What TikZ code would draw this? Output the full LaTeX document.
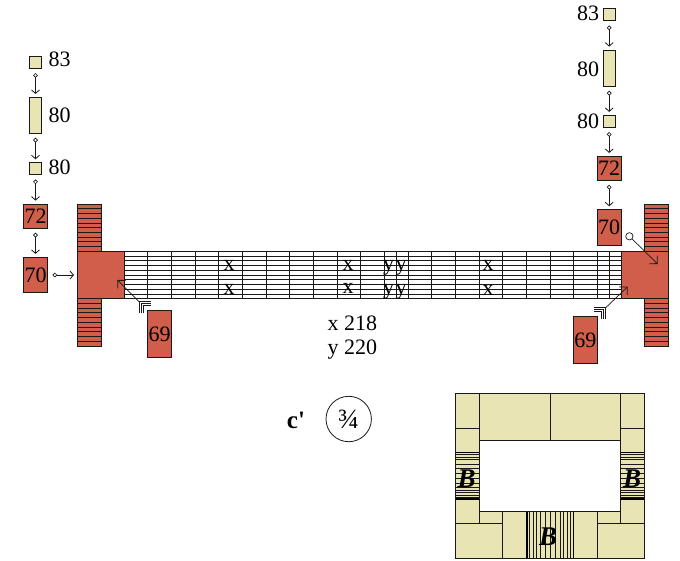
\documentclass[tikz,border=0pt]{standalone}
\usepackage{fontspec}
\setmainfont{Liberation Serif}
\newfontfamily\plainserif{Liberation Serif}
\usetikzlibrary{arrows.meta}
\definecolor{brick}{RGB}{208,94,74}
\definecolor{straw}{RGB}{232,228,180}
\definecolor{ink}{RGB}{25,25,25}
\tikzset{
  thinline/.style={draw=ink,line width=0.8pt},
  redbox/.style={draw=ink,line width=0.8pt,fill=brick,inner sep=0pt,font=\fontsize{22}{22}\selectfont},
  strawbox/.style={draw=ink,line width=0.8pt,fill=straw,inner sep=0pt},
  lab/.style={inner sep=0pt,anchor=base west,font=\fontsize{22}{22}\selectfont},
  gridlab/.style={inner sep=0pt,anchor=base,font=\fontsize{22}{22}\selectfont},
  conn/.style={draw=ink,line width=0.8pt,{Circle[open,length=4.6pt,width=4.6pt,fill=white,line width=0.7pt]}-{Straight Barb[length=3.5pt,width=8pt,line width=0.8pt]}},
  arrowline/.style={draw=ink,line width=0.7pt},
  bold B/.style={inner sep=0pt,font=\fontsize{27}{27}\selectfont\bfseries\itshape}
}
\begin{document}
\begin{tikzpicture}[x=1pt,y=-1pt]
\useasboundingbox (0,0) rectangle (680,560);
% girder
\foreach \k in {0,...,10} \draw[thinline] (124,251.3+4.74*\k) -- (621,251.3+4.74*\k);
\foreach \gx in {147.7,171.4,195,218.7,242.4,266,289.7,313.4,337,360.7,384.4,396,408,431.7,455.4,479,502.7,526.4,550,573.7,597.4,609}
  \draw[thinline] (\gx,251.3) -- (\gx,298.7);
% left end block
\fill[brick] (77,204) rectangle (101,346);
\fill[brick] (77,251.3) rectangle (124,298.7);
\foreach \k in {1,...,9} {
  \draw[thinline] (77,204+4.73*\k) -- (101,204+4.73*\k);
  \draw[thinline] (77,298.7+4.73*\k) -- (101,298.7+4.73*\k);
}
\draw[thinline] (77,251.3) -- (101,251.3);
\draw[thinline] (77,298.7) -- (101,298.7);
\draw[thinline] (77,204) -- (101,204) -- (101,251.3) -- (124,251.3) -- (124,298.7) -- (101,298.7) -- (101,346) -- (77,346) -- cycle;
% right end block
\fill[brick] (644.5,204) rectangle (668,346);
\fill[brick] (621,251.3) rectangle (668,298.7);
\foreach \k in {1,...,9} {
  \draw[thinline] (644.5,204+4.73*\k) -- (668,204+4.73*\k);
  \draw[thinline] (644.5,298.7+4.73*\k) -- (668,298.7+4.73*\k);
}
\draw[thinline] (644.5,251.3) -- (668,251.3);
\draw[thinline] (644.5,298.7) -- (668,298.7);
\draw[thinline] (668,204) -- (644.5,204) -- (644.5,251.3) -- (621,251.3) -- (621,298.7) -- (644.5,298.7) -- (644.5,346) -- (668,346) -- cycle;
% grid letters
\foreach \lx/\ly/\lname in {229/270.5/a,229/294/b,348/270.5/c,348/293.5/d,488/270.5/e,488/295/f}
  \node[gridlab] (x\lname) at (\lx,\ly) {x};
\foreach \lx/\ly/\lname in {388.5/270.5/a,401/270.5/b,388.5/294.5/c,401/294.5/d}
  \node[gridlab] (y\lname) at (\lx,\ly) {y};
% left stack
\node[strawbox,minimum width=12.4pt,minimum height=12.3pt] (la) at (35.5,62.2) {};
\node[strawbox,minimum width=12.4pt,minimum height=35.7pt] (lb) at (35.5,115.2) {};
\node[strawbox,minimum width=12.4pt,minimum height=12pt] (lc) at (35.5,168.7) {};
\node[redbox,minimum width=24.4pt,minimum height=24pt] (ld) at (35.5,216) {72};
\node[redbox,minimum width=24.4pt,minimum height=35.4pt] (le) at (35.5,275) {70};
\node[lab] (lla) at (48.5,66.7) {83};
\node[lab] (llb) at (48.5,122.7) {80};
\node[lab] (llc) at (48.5,174.3) {80};
\node[redbox,minimum width=24pt,minimum height=47.4pt] (lf) at (159.7,334) {69};
% right stack
\node[strawbox,minimum width=12.4pt,minimum height=12pt] (ra) at (609.2,14.7) {};
\node[strawbox,minimum width=12.4pt,minimum height=36pt] (rb) at (609.2,68) {};
\node[strawbox,minimum width=12.4pt,minimum height=12pt] (rc) at (609.2,121.3) {};
\node[redbox,minimum width=24pt,minimum height=23.7pt] (rd) at (609.2,168.2) {72};
\node[redbox,minimum width=24pt,minimum height=35.6pt] (re) at (609.2,227.5) {70};
\node[lab] (rla) at (577,20.7) {83};
\node[lab] (rlb) at (577,76) {80};
\node[lab] (rlc) at (577,128.3) {80};
\node[redbox,minimum width=24pt,minimum height=47.4pt] (rf) at (585.3,340) {69};
% stack connectors
\tikzset{stackgap/.style={conn,shorten <=4.4pt,shorten >=3pt}}
\draw[stackgap] (la.south) -- (lb.north);
\draw[stackgap] (lb.south) -- (lc.north);
\draw[stackgap] (lc.south) -- (ld.north);
\draw[stackgap] (ld.south) -- (le.north);
\draw[stackgap] (ra.south) -- (rb.north);
\draw[stackgap] (rb.south) -- (rc.north);
\draw[stackgap] (rc.south) -- (rd.north);
\draw[stackgap] (rd.south) -- (re.north);
\coordinate (leftblock) at (77,275);
\draw[conn,shorten <=4.4pt,shorten >=3pt] (le.east) -- (leftblock);
% circle arrow on right block
\coordinate (rcircle) at (626.5,233.5);
\coordinate (rcirctip) at (657.7,264);
\draw[draw=ink,line width=0.7pt,{Circle[open,length=8pt,width=8pt,fill=white,line width=0.7pt]}-{Straight Barb[length=5.6pt,width=11.3pt,line width=0.8pt]}] (rcircle) -- (rcirctip);
% feathered arrows
\coordinate (tailL) at (139,301.7);
\coordinate (tipL) at (117.3,280);
\draw[arrowline,-{Straight Barb[length=5.6pt,width=11.3pt,line width=0.8pt]}] (tailL) -- (tipL);
\foreach \c in {0,1,2}
  \draw[arrowline] (139+2*\c,313.3) -- (139+2*\c,301.7+2*\c) -- (150.7,301.7+2*\c);
\coordinate (tailR) at (605.7,307.7);
\coordinate (tipR) at (627.7,286.7);
\draw[arrowline,-{Straight Barb[length=5.6pt,width=11.3pt,line width=0.8pt]}] (tailR) -- (tipR);
\foreach \c in {0,1,2}
  \draw[arrowline] (605.7-2*\c,319) -- (605.7-2*\c,307.7+2*\c) -- (594.4,307.7+2*\c);
% legend
\node[lab] (lx) at (327.5,330) {x 218};
\node[lab] (ly) at (327.5,354) {y 220};
\node[inner sep=0pt,anchor=base,font=\plainserif\fontsize{25}{25}\selectfont\bfseries] (cp) at (296,428.5) {c'};
\node[circle,draw=ink,line width=0.8pt,minimum size=45.4pt,inner sep=0pt,font=\fontsize{28}{28}\selectfont] (frac) at (348.7,419) {¾};
% section
\fill[straw] (455.3,393.3) rectangle (644.3,558.7);
\fill[white] (479,440.7) rectangle (620.7,511.3);
\foreach \by in {454.6,457,459.4,464,468.7,473.4,478.1,482.8,487.5,490,492.4,494.8,497}{
  \draw[thinline,line width=0.6pt] (455.3,\by) -- (479,\by);
  \draw[thinline,line width=0.6pt] (620.7,\by) -- (644.3,\by);
}
\foreach \by in {452.6,498.9}{
  \draw[draw=black,line width=1.5pt] (455.3,\by) -- (479,\by);
  \draw[draw=black,line width=1.5pt] (620.7,\by) -- (644.3,\by);
}
\foreach \bx in {529.5,533,536.5,540,545,550,555,560,563.5,567,570.5}
  \draw[thinline,line width=0.6pt] (\bx,511.3) -- (\bx,558.7);
\foreach \bx in {526.8,573.3}
  \draw[draw=black,line width=1.6pt] (\bx,511.3) -- (\bx,558.7);
\draw[thinline] (455.3,393.3) rectangle (644.3,558.7);
\draw[thinline] (479,440.7) rectangle (620.7,511.3);
\draw[thinline] (479,393.3) -- (479,440.7);
\draw[thinline] (620.7,393.3) -- (620.7,440.7);
\draw[thinline] (550,393.3) -- (550,440.7);
\draw[thinline] (455.3,428.7) -- (479,428.7);
\draw[thinline] (620.7,428.7) -- (644.3,428.7);
\draw[thinline] (479,440.7) -- (479,452.3);
\draw[thinline] (479,499.7) -- (479,523.3);
\draw[thinline] (620.7,499.7) -- (620.7,523.3);
\draw[thinline] (455.3,523.3) -- (502.7,523.3);
\draw[thinline] (597.3,523.3) -- (644.3,523.3);
\draw[thinline] (502.7,511.3) -- (502.7,558.7);
\draw[thinline] (597.3,511.3) -- (597.3,558.7);
\node[bold B] (bl) at (466.5,479) {B};
\node[bold B] (br) at (632,479) {B};
\node[bold B] (bb) at (548,537) {B};
\end{tikzpicture}
\end{document}
